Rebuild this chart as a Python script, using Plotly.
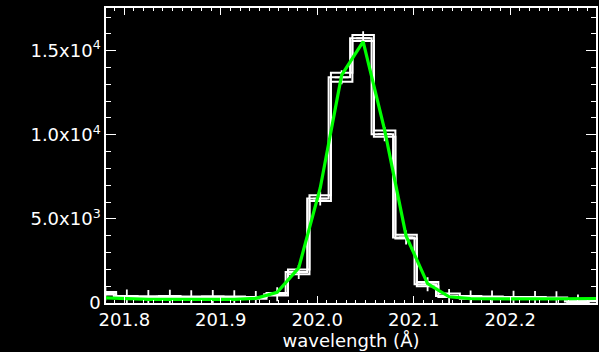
import plotly.graph_objects as go

# Bin centres of the spectrum (Angstrom)
wave = [201.7804, 201.8026, 201.8249, 201.8472, 201.8694, 201.8917,
        201.9140, 201.9363, 201.9585, 201.9808, 202.0031, 202.0253,
        202.0476, 202.0699, 202.0921, 202.1144, 202.1367, 202.1590,
        202.1812, 202.2035, 202.2258, 202.2480, 202.2703, 202.2926]

# Small wavelength offset of the second exposure
wave_shift = -0.0024

# Observed intensities of three exposures
spec_a = [650, 420, 400, 420, 380, 400, 380, 350, 600, 1990, 6410, 13690,
          15930, 10250, 4060, 1250, 560, 420, 380, 360, 350, 330, 140, 200]
spec_b = [560, 380, 360, 370, 340, 360, 340, 300, 520, 1850, 6210, 13420,
          15740, 10040, 3900, 1110, 420, 330, 320, 310, 300, 280, 90, 150]
spec_c = [500, 350, 330, 340, 310, 320, 300, 260, 450, 1710, 6070, 13160,
          15580, 9880, 3830, 990, 350, 260, 260, 260, 250, 240, 50, 100]

# Gaussian fit evaluated at the bin centres
fit = [300, 240, 220, 210, 210, 210, 210, 280, 640, 2090, 6840, 13550,
       15540, 10280, 3990, 1150, 370, 260, 240, 240, 240, 250, 260, 270]

ytick_vals = [0, 5000, 10000, 15000]
ytick_text = ["0", "5.0x10<sup>3</sup>", "1.0x10<sup>4</sup>", "1.5x10<sup>4</sup>"]

fig = go.Figure()

hist_line = dict(color="white", width=2, shape="hvh")
fig.add_trace(go.Scatter(x=wave, y=spec_a, mode="lines", line=hist_line))
fig.add_trace(go.Scatter(x=[w + wave_shift for w in wave], y=spec_b,
                         mode="lines", line=hist_line))
fig.add_trace(go.Scatter(x=wave, y=spec_c, mode="lines", line=hist_line))

# Plus symbols on the data points
fig.add_trace(go.Scatter(
    x=wave, y=spec_b, mode="markers",
    marker=dict(symbol="cross-thin", size=10,
                line=dict(color="white", width=1.8)),
))

# Fitted profile
fig.add_trace(go.Scatter(x=wave, y=fit, mode="lines",
                         line=dict(color="#00ff00", width=3.2)))

font = dict(family="DejaVu Sans", size=18, color="white")

fig.update_layout(
    width=599, height=352,
    margin=dict(l=106, r=1, t=8, b=49),
    paper_bgcolor="black", plot_bgcolor="black",
    showlegend=False,
    font=font,
    xaxis=dict(
        range=[201.781, 202.289],
        tickvals=[201.8, 201.9, 202.0, 202.1, 202.2],
        ticktext=["201.8", "201.9", "202.0", "202.1", "202.2"],
        ticks="inside", ticklen=7, tickwidth=1.2, tickcolor="white",
        minor=dict(ticks="inside", ticklen=3.5, dtick=0.01,
                   tickcolor="white", tickwidth=1),
        showline=True, linecolor="white", linewidth=1.5,
        mirror="allticks", showgrid=False, zeroline=False,
        tickfont=font,
        title=dict(text="wavelength (Å)", font=font, standoff=2),
    ),
    yaxis=dict(
        range=[0, 17540],
        tickvals=ytick_vals, ticktext=ytick_text,
        ticks="inside", ticklen=10, tickwidth=1.2, tickcolor="white",
        minor=dict(ticks="inside", ticklen=5, dtick=1000,
                   tickcolor="white", tickwidth=1),
        showline=True, linecolor="white", linewidth=1.5,
        mirror="allticks", showgrid=False, zeroline=False,
        tickfont=font,
    ),
)

fig.write_html("out.html")
